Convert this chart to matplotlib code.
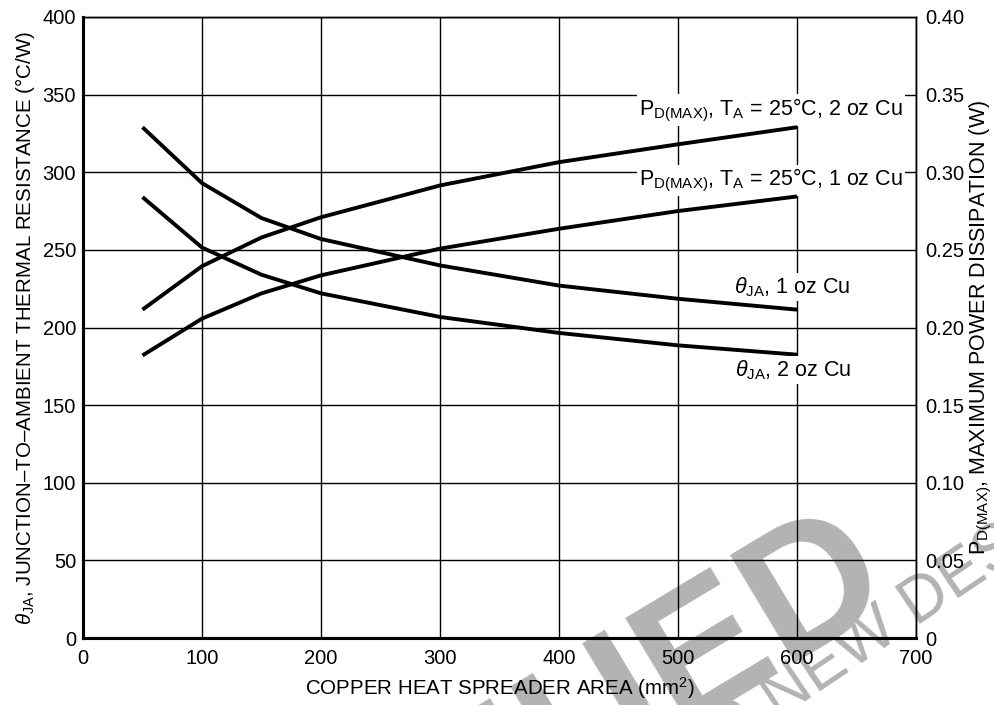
import matplotlib
matplotlib.use("Agg")
import matplotlib.pyplot as plt

plt.rcParams['font.family'] = ['Liberation Sans', 'DejaVu Sans']
plt.rcParams['mathtext.fontset'] = 'custom'
plt.rcParams['mathtext.rm'] = 'Liberation Sans'
plt.rcParams['mathtext.it'] = 'Liberation Sans:italic'
plt.rcParams['mathtext.sf'] = 'Liberation Sans'

area = [50, 100, 150, 200, 300, 400, 500, 600]
theta_1oz = [329, 293, 270.5, 257, 240, 227, 218.5, 211.5]
theta_2oz = [284, 251.5, 234, 222, 206.8, 196.5, 188.5, 182.5]
pd_2oz = [0.2115, 0.2395, 0.258, 0.271, 0.2915, 0.3065, 0.318, 0.329]
pd_1oz = [0.182, 0.2057, 0.222, 0.2336, 0.2508, 0.2636, 0.275, 0.2844]

x_ticks = [0, 100, 200, 300, 400, 500, 600, 700]
y_left_ticks = [0, 50, 100, 150, 200, 250, 300, 350, 400]
y_right_ticks = [0, 0.05, 0.10, 0.15, 0.20, 0.25, 0.30, 0.35, 0.40]
y_right_labels = ["0", "0.05", "0.10", "0.15", "0.20", "0.25", "0.30", "0.35", "0.40"]

FS = 14.5
LFS = 14.8
CFS = 15.5
fig = plt.figure(figsize=(9.95, 7.05), dpi=100)
ax = fig.add_axes([83/995, 1-638/705, (916-83)/995, (638-17)/705])
ax.set_facecolor('none')
ax2 = ax.twinx()

# watermark (behind the axes)
wm = '#b3b3b3'
fig.text(897/995, 1-594/705, "DISCONTINUED", rotation=31, rotation_mode='anchor',
         ha='right', va='baseline', fontsize=132, fontweight='bold', color=wm, zorder=-5)
fig.text(652/995, 1-806/705, "FOR NEW DESIGN", rotation=34, rotation_mode='anchor',
         ha='left', va='baseline', fontsize=46, color=wm, zorder=-5)

ax.plot(area, theta_1oz, color='black', lw=2.8, solid_capstyle='butt', zorder=5)
ax.plot(area, theta_2oz, color='black', lw=2.8, solid_capstyle='butt', zorder=5)
ax2.plot(area, pd_2oz, color='black', lw=2.8, solid_capstyle='butt', zorder=5)
ax2.plot(area, pd_1oz, color='black', lw=2.8, solid_capstyle='butt', zorder=5)

ax.set_xlim(0, 700)
ax.set_ylim(0, 400)
ax2.set_ylim(0, 0.40)
ax.set_xticks(x_ticks)
ax.set_xticklabels([str(v) for v in x_ticks], fontsize=FS)
ax.set_yticks(y_left_ticks)
ax.set_yticklabels([str(v) for v in y_left_ticks], fontsize=FS)
ax2.set_yticks(y_right_ticks)
ax2.set_yticklabels(y_right_labels, fontsize=FS)
ax.tick_params(axis='both', length=0)
ax.tick_params(axis='x', pad=8)
ax.tick_params(axis='y', pad=5)
ax2.tick_params(axis='y', length=0, pad=7)
ax.grid(True, color='black', lw=1.0)
ax.set_axisbelow(True)

for a in (ax, ax2):
    a.spines['left'].set_linewidth(2.2)
    a.spines['bottom'].set_linewidth(2.2)
    a.spines['right'].set_linewidth(1.0)
    a.spines['top'].set_linewidth(1.0)

ax.set_xlabel(r"COPPER HEAT SPREADER AREA (mm$^{2}$)", fontsize=LFS, labelpad=5)
ax.set_ylabel(r"$\theta_{\mathrm{JA}}$, JUNCTION–TO–AMBIENT THERMAL RESISTANCE (°C/W)",
              fontsize=LFS, labelpad=4)
ax2.set_ylabel(r"P$_{\mathrm{D(MAX)}}$, MAXIMUM POWER DISSIPATION (W)",
               fontsize=15.5, labelpad=2)

bb = dict(facecolor='white', edgecolor='none', pad=1.5)
ax.text(689, 340, r"P$_{\mathrm{D(MAX)}}$, T$_{\mathrm{A}}$ = 25°C, 2 oz Cu", ha='right',
        va='center', fontsize=CFS, bbox=bb, zorder=6)
ax.text(689, 294.5, r"P$_{\mathrm{D(MAX)}}$, T$_{\mathrm{A}}$ = 25°C, 1 oz Cu", ha='right',
        va='center', fontsize=CFS, bbox=bb, zorder=6)
ax.text(547, 226, r"$\theta_{\mathrm{JA}}$, 1 oz Cu", ha='left', va='center',
        fontsize=CFS, bbox=bb, zorder=6)
ax.text(548, 172.5, r"$\theta_{\mathrm{JA}}$, 2 oz Cu", ha='left', va='center',
        fontsize=CFS, bbox=bb, zorder=6)

fig.savefig("out.png", dpi=100)
